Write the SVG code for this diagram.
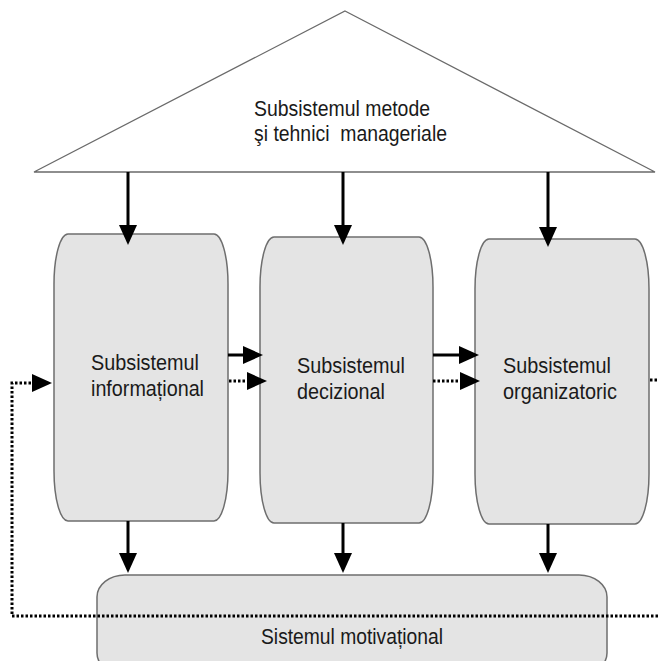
<svg xmlns="http://www.w3.org/2000/svg" width="658" height="661" viewBox="0 0 658 661">
<style>
.bg{fill:#ffffff}
.tri{fill:#ffffff;stroke:#6a6a6a;stroke-width:1.3}
.box{fill:#e4e4e4;stroke:#6e6e6e;stroke-width:1.5}
.lbl{font-family:"Liberation Sans",Arial,sans-serif;font-size:22px;fill:#1a1a1a}
.arr{fill:none;stroke:#000;stroke-width:3;marker-end:url(#ah)}
.dot{fill:none;stroke:#000;stroke-width:3;stroke-dasharray:2.5 2}
.dotarr{fill:none;stroke:#000;stroke-width:3;stroke-dasharray:2.5 2;marker-end:url(#ah)}
</style>
<defs>
<marker id="ah" markerUnits="userSpaceOnUse" markerWidth="20" markerHeight="18" viewBox="0 0 20 18" refX="1" refY="9" orient="auto" overflow="visible">
<path d="M0,0 L20,9 L0,18 z" fill="#000"/>
</marker>
</defs>
<rect class="bg" x="0" y="0" width="658" height="661"/>
<g id="node-metode">
<polygon class="tri" points="345,11 655,172 34,172"/>
<text class="lbl" x="254" y="116" textLength="176" lengthAdjust="spacingAndGlyphs">Subsistemul metode</text>
<text class="lbl" x="254" y="141" textLength="193" lengthAdjust="spacingAndGlyphs" xml:space="preserve">şi tehnici  manageriale</text>
</g>
<g id="node-informational">
<rect class="box" x="54" y="234" width="174" height="287" rx="14" ry="50"/>
<text class="lbl" x="91" y="370" textLength="108" lengthAdjust="spacingAndGlyphs">Subsistemul</text>
<text class="lbl" x="91" y="396" textLength="113" lengthAdjust="spacingAndGlyphs">informațional</text>
</g>
<g id="node-decizional">
<rect class="box" x="260" y="237" width="173" height="286" rx="14" ry="50"/>
<text class="lbl" x="297" y="373" textLength="108" lengthAdjust="spacingAndGlyphs">Subsistemul</text>
<text class="lbl" x="297" y="399" textLength="88" lengthAdjust="spacingAndGlyphs">decizional</text>
</g>
<g id="node-organizatoric">
<rect class="box" x="475" y="239" width="174" height="285" rx="14" ry="50"/>
<text class="lbl" x="503" y="373" textLength="108" lengthAdjust="spacingAndGlyphs">Subsistemul</text>
<text class="lbl" x="503" y="399" textLength="114" lengthAdjust="spacingAndGlyphs">organizatoric</text>
</g>
<g id="node-motivational">
<rect class="box" x="97" y="575" width="510" height="100" rx="28" ry="22"/>
<text class="lbl" x="261" y="644" textLength="182" lengthAdjust="spacingAndGlyphs">Sistemul motivațional</text>
</g>
<g id="connectors">
<path class="arr" d="M128,172 V226"/>
<path class="arr" d="M343,172 V226"/>
<path class="arr" d="M548,172 V228"/>
<path class="arr" d="M228,355 H244"/>
<path class="arr" d="M433,355 H460"/>
<path class="dotarr" d="M229,381 H248"/>
<path class="dotarr" d="M433,381 H461"/>
<path class="arr" d="M128,521 V554"/>
<path class="arr" d="M343,523 V554"/>
<path class="arr" d="M548,524 V554"/>
<path class="dotarr" d="M658,616 H12 V383 H33"/>
<path class="dot" d="M650,380 H658"/>
</g>
</svg>
